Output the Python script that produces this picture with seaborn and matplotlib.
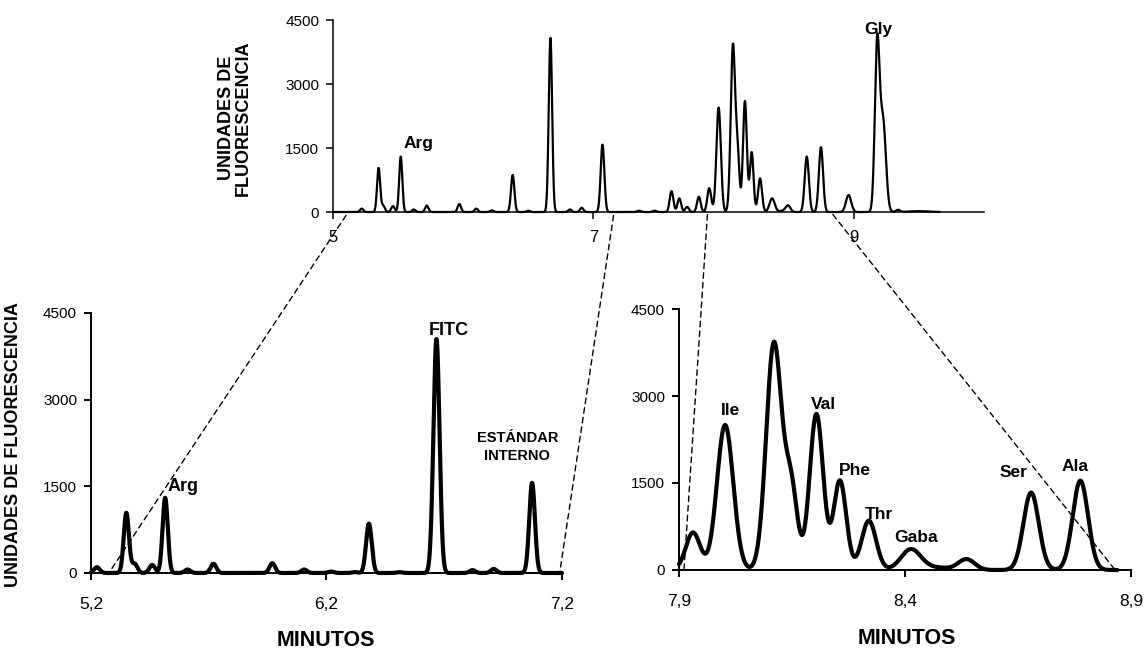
import numpy as np
import pandas as pd
import matplotlib
matplotlib.use("Agg")
import matplotlib.pyplot as plt
from matplotlib.patches import ConnectionPatch
import seaborn as sns

# ---------------- data ----------------
# Top panel: full electropherogram, peaks as (time [min], height, width sigma)
top_times = [5.22, 5.35, 5.385, 5.46, 5.52, 5.62, 5.72, 5.97, 6.10, 6.22, 6.38, 6.50,
             6.67, 6.82, 6.91, 7.07, 7.35, 7.47, 7.60, 7.66, 7.72, 7.81, 7.89,
             7.962, 8.072, 8.108, 8.164, 8.216, 8.28, 8.373, 8.47, 8.496, 8.639, 8.748,
             8.96, 9.18, 9.225, 9.34, 9.5]
top_heights = [80, 1030, 150, 140, 1300, 60, 150, 190, 80, 40, 870, 30,
               4080, 60, 100, 1580, 30, 30, 490, 320, 120, 360, 560,
               2450, 3900, 1300, 2600, 1400, 790, 320, 40, 130, 1300, 1520,
               400, 3900, 2100, 50, 20]
top_sigmas = [0.013, 0.012, 0.013, 0.013, 0.012, 0.013, 0.013, 0.013, 0.013, 0.013, 0.013, 0.013,
              0.013, 0.013, 0.013, 0.014, 0.015, 0.015, 0.014, 0.014, 0.014, 0.014, 0.015,
              0.017, 0.017, 0.014, 0.015, 0.014, 0.015, 0.020, 0.030, 0.017, 0.016, 0.016,
              0.020, 0.018, 0.022, 0.015, 0.08]
top_range = (5.0, 9.66)

# Bottom-left panel: zoom 5.2 - 7.2 min
bl_times = [5.225, 5.35, 5.385, 5.46, 5.515, 5.61, 5.72, 5.97, 6.105, 6.22, 6.32,
            6.38, 6.51, 6.667, 6.82, 6.91, 7.073]
bl_heights = [100, 1040, 160, 140, 1300, 60, 160, 170, 60, 25, 15,
              855, 15, 4050, 50, 70, 1560]
bl_sigmas = [0.012, 0.011, 0.012, 0.012, 0.011, 0.012, 0.012, 0.012, 0.012, 0.012, 0.012,
             0.012, 0.012, 0.013, 0.012, 0.012, 0.012]
bl_range = (5.2, 7.2)

# Bottom-right panel: zoom 7.9 - 8.9 min
br_times = [7.931, 8.002, 8.110, 8.148, 8.204, 8.256, 8.32, 8.413, 8.47, 8.536, 8.679, 8.788]
br_heights = [645, 2500, 3900, 1400, 2690, 1540, 850, 355, 40, 185, 1335, 1540]
br_sigmas = [0.016, 0.018, 0.017, 0.014, 0.015, 0.014, 0.016, 0.022, 0.03, 0.018, 0.017, 0.017]
br_range = (7.9, 8.87)

# Tick labels
y_ticks = [0, 1500, 3000, 4500]
y_ticklabels = ["0", "1500", "3000", "4500"]
top_xticks = [5, 7, 9]
top_xticklabels = ["5", "7", "9"]
bl_xticks = [5.2, 6.2, 7.2]
bl_xticklabels = ["5,2", "6,2", "7,2"]
br_xticks = [7.9, 8.4, 8.9]
br_xticklabels = ["7,9", "8,4", "8,9"]

# Peak annotations (text, time, height)
top_labels = [("Arg", 5.66, 1600), ("Gly", 9.19, 4270)]
bl_labels = [("Arg", 5.59, 1490), ("FITC", 6.72, 4200), ("ESTÁNDAR\nINTERNO", 7.01, 2180)]
br_labels = [("Ile", 8.014, 2750), ("Val", 8.22, 2845), ("Phe", 8.289, 1707),
             ("Thr", 8.342, 965), ("Gaba", 8.424, 552), ("Ser", 8.64, 1678), ("Ala", 8.776, 1781)]


def trace(times, heights, sigmas, rng, n=4000):
    t = np.linspace(rng[0], rng[1], n)
    y = np.zeros_like(t)
    for c, h, s in zip(times, heights, sigmas):
        y += h * np.exp(-0.5 * ((t - c) / s) ** 2)
    return pd.DataFrame({"t": t, "y": y})


top_df = trace(top_times, top_heights, top_sigmas, top_range)
bl_df = trace(bl_times, bl_heights, bl_sigmas, bl_range)
br_df = trace(br_times, br_heights, br_sigmas, br_range)

# ---------------- style ----------------
sns.set_style("ticks")
plt.rcParams["font.family"] = ["Liberation Sans", "DejaVu Sans"]
plt.rcParams["axes.edgecolor"] = "black"
plt.rcParams["axes.labelcolor"] = "black"
plt.rcParams["text.color"] = "black"
plt.rcParams["xtick.color"] = "black"
plt.rcParams["ytick.color"] = "black"

fig = plt.figure(figsize=(11.46, 6.5), dpi=100)
ax_top = fig.add_axes([0.2906, 0.6738, 0.568, 0.2954])
ax_bl = fig.add_axes([0.0794, 0.1185, 0.411, 0.40])
ax_br = fig.add_axes([0.5925, 0.1231, 0.3944, 0.4015])


def style_axis(ax, xlim, xticks, xticklabels, lw_spine, xfs, pad_x):
    ax.set_xlim(*xlim)
    ax.set_ylim(0, 4500)
    sns.despine(ax=ax)
    for s in ("left", "bottom"):
        ax.spines[s].set_linewidth(lw_spine)
        ax.spines[s].set_color("black")
    ax.set_yticks(y_ticks)
    ax.set_yticklabels(y_ticklabels)
    ax.set_xticks(xticks)
    ax.set_xticklabels(xticklabels)
    ax.tick_params(axis="y", direction="out", length=5, width=lw_spine, labelsize=11,
                   pad=5, labelcolor="black", color="black")
    ax.tick_params(axis="x", direction="out", length=5, width=lw_spine, labelsize=xfs,
                   pad=pad_x, labelcolor="black", color="black")
    ax.set_facecolor("none")


# top
sns.lineplot(data=top_df, x="t", y="y", ax=ax_top, color="black", linewidth=1.6, sort=False)
style_axis(ax_top, (5, 10), top_xticks, top_xticklabels, 1.1, 12, 8)
ax_top.set_xlabel("")
ax_top.set_ylabel("UNIDADES DE\nFLUORESCENCIA", fontsize=13, fontweight="bold",
                  linespacing=0.95, color="black")
ax_top.yaxis.set_label_coords(-0.125, 0.49)
for txt, x, y in top_labels:
    ax_top.text(x, y, txt, ha="center", va="center", fontsize=12.5, fontweight="bold", color="black")

# bottom-left
sns.lineplot(data=bl_df, x="t", y="y", ax=ax_bl, color="black", linewidth=3.0, sort=False)
style_axis(ax_bl, (5.2, 7.2), bl_xticks, bl_xticklabels, 1.4, 12.5, 12)
ax_bl.set_ylabel("UNIDADES DE FLUORESCENCIA", fontsize=13, fontweight="bold", color="black")
ax_bl.yaxis.set_label_coords(-0.1465, 0.492)
ax_bl.set_xlabel("MINUTOS", fontsize=15.5, fontweight="bold", color="black")
ax_bl.xaxis.set_label_coords(0.499, -0.258)
ax_bl.xaxis.label.set_va("center")
for txt, x, y in bl_labels:
    fs = 10.5 if "\n" in txt else 13
    ax_bl.text(x, y, txt, ha="center", va="center", fontsize=fs, fontweight="bold",
               linespacing=1.3, color="black")

# bottom-right
sns.lineplot(data=br_df, x="t", y="y", ax=ax_br, color="black", linewidth=3.0, sort=False)
style_axis(ax_br, (7.9, 8.9), br_xticks, br_xticklabels, 1.4, 12.5, 12)
ax_br.set_ylabel("")
ax_br.set_xlabel("MINUTOS", fontsize=15.5, fontweight="bold", color="black")
ax_br.xaxis.set_label_coords(0.504, -0.264)
ax_br.xaxis.label.set_va("center")
for txt, x, y in br_labels:
    ax_br.text(x, y, txt, ha="center", va="center", fontsize=12.5, fontweight="bold", color="black")

for ax in (ax_top, ax_bl, ax_br):
    for ln in ax.lines:
        ln.set_clip_on(False)
        ln.set_solid_joinstyle("round")

# dashed zoom connectors
connectors = [((5.10, -80), ax_top, (5.276, 0), ax_bl),
              ((7.155, -80), ax_top, (7.19, 0), ax_bl),
              ((7.876, -60), ax_top, (7.911, 0), ax_br),
              ((8.84, -60), ax_top, (8.865, 0), ax_br)]
for (xa, ya), axa, (xb, yb), axb in connectors:
    con = ConnectionPatch(xyA=(xa, ya), coordsA=axa.transData, xyB=(xb, yb), coordsB=axb.transData,
                          linestyle=(0, (4, 3)), linewidth=1.0, color="black", zorder=5)
    fig.add_artist(con)

fig.savefig("out.png", dpi=100, facecolor="white")
